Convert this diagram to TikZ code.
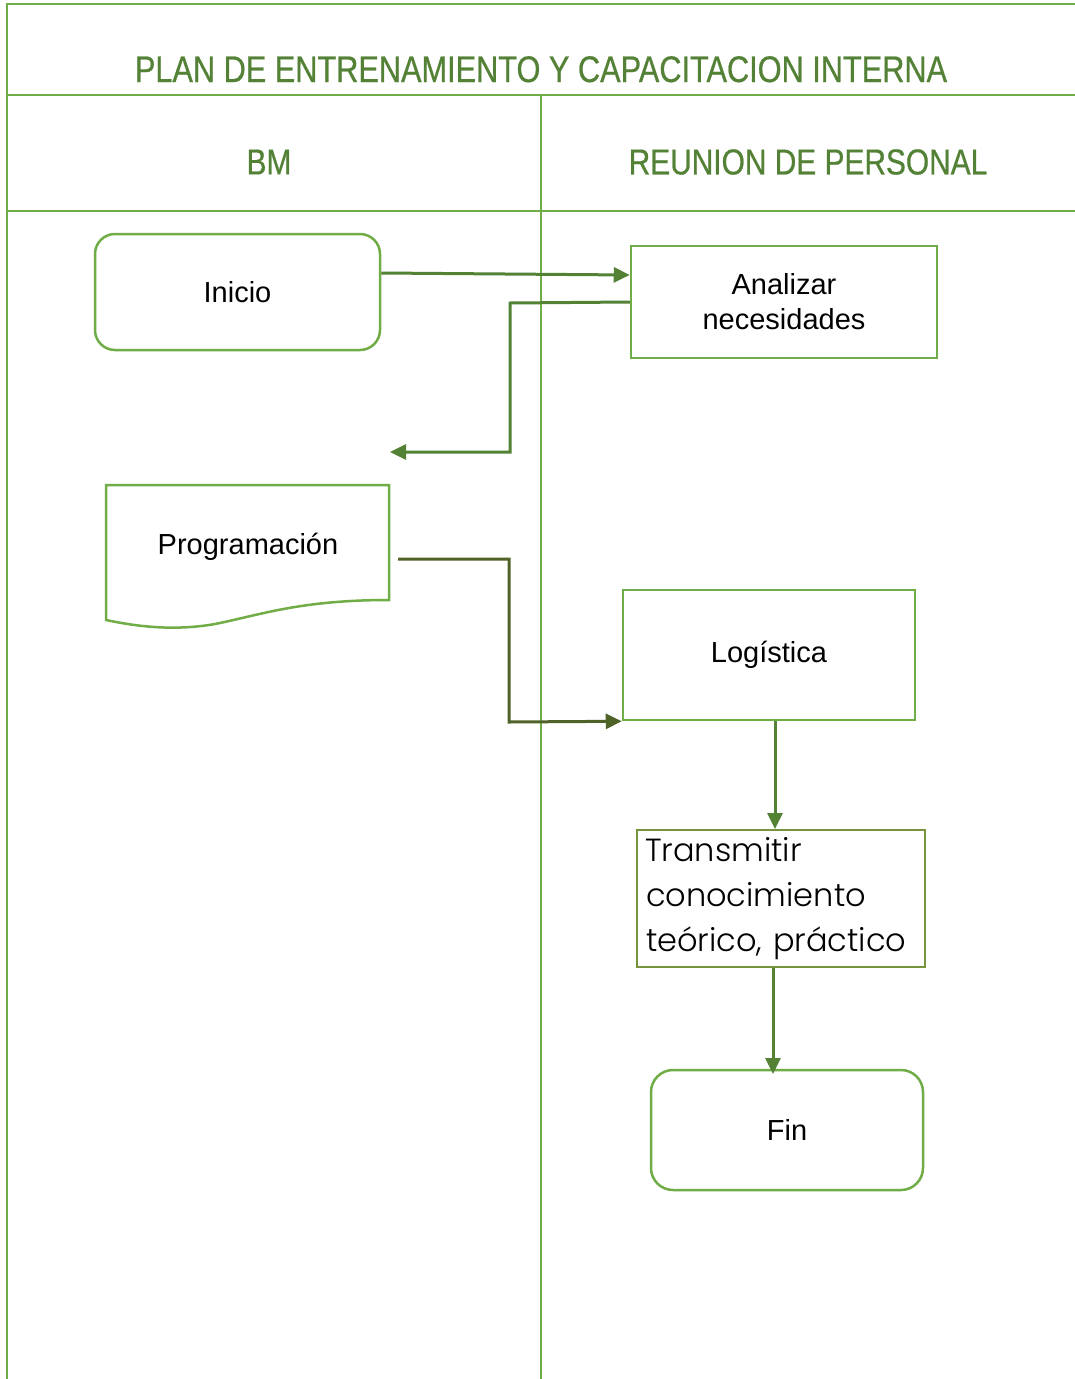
\documentclass[tikz,border=0pt]{standalone}
\usepackage{fontspec}
\setmainfont{Liberation Sans}
\newfontfamily\headfont[FakeStretch=0.83,FakeBold=0.6]{Liberation Sans}
\IfFontExistsTF{Poppins Light}
  {\newfontfamily\geofont{Poppins Light}}
  {\newfontfamily\geofont{Poppins}}
\usetikzlibrary{arrows.meta}
\definecolor{lane}{HTML}{70AD47}
\definecolor{headtxt}{HTML}{538135}
\definecolor{flow}{HTML}{548235}
\definecolor{olive}{HTML}{4F6228}
\definecolor{oliveframe}{HTML}{77933C}
\tikzset{
  x=1pt, y=-1pt,
  laneline/.style={draw=lane, line width=2pt},
  heading/.style={text=headtxt, font=\headfont\fontsize{37}{40}\selectfont, anchor=base},
  lanehead/.style={text=headtxt, font=\headfont\fontsize{36}{40}\selectfont},
  terminal/.style={draw=lane, line width=2.5pt, rounded corners=20pt, fill=white,
    font=\fontsize{29}{35}\selectfont, inner sep=0pt},
  process/.style={draw=lane, line width=2.5pt, fill=white,
    font=\fontsize{29}{35}\selectfont, inner sep=0pt, align=center},
  flowline/.style={draw=flow, line width=3pt,
    -{Triangle[length=16pt,width=15pt]}},
}
\begin{document}
\begin{tikzpicture}
\useasboundingbox (0,0) rectangle (1075,1379);
\fill[white] (0,0) rectangle (1075,1379);

% swimlane frame
\draw[laneline] (7,1379) -- (7,4) -- (1075,4);
\draw[laneline] (7,95) -- (1075,95);
\draw[laneline] (7,211) -- (1075,211);
\draw[laneline] (541,95) -- (541,1379);

\node[heading] (title) at (541,82) {PLAN DE ENTRENAMIENTO Y CAPACITACION INTERNA};
\node[lanehead] (laneBM) at (269,162) {BM};
\node[lanehead] (laneRP) at (808,162) {REUNION DE PERSONAL};

% process nodes
\node[terminal, minimum width=285pt, minimum height=116pt] (inicio) at (237.5,292) {Inicio};
\node[process, minimum width=306pt, minimum height=112pt] (analizar) at (784,302) {Analizar\\necesidades};

% document shape
\draw[lane, line width=2.5pt, fill=white] (106,485) -- (389,485) -- (389,600)
  .. controls (300,600) and (260,615) .. (215,624)
  .. controls (170,632) and (130,625) .. (106,620) -- cycle;
\node[font=\fontsize{29}{35}\selectfont] (prog) at (248,547) {Programación};
\coordinate (progR) at (398,559);

\node[process, minimum width=292pt, minimum height=130pt] (logistica) at (769,655) {\raisebox{-3pt}{Logística}};
\node[process, draw=oliveframe, line width=2pt, minimum width=288pt, minimum height=137pt,
  anchor=north west, align=left, text width=270pt,
  font=\geofont\fontsize{32}{45}\selectfont] (transmitir) at (636,829)
  {\hspace*{-1pt}Transmitir\\conocimiento\\teórico, práctico};
\node[terminal, rounded corners=22pt, minimum width=272pt, minimum height=120pt] (fin) at (787,1130) {Fin};

% connectors
\coordinate (retTip) at (390,452);
\draw[flowline] (inicio.east |- 0,273) -- (analizar.west |- 0,275);
\draw[flowline] (analizar.west) -- (510,303) -- (510,452) -- (retTip);
\draw[flowline, draw=olive] (progR) -- (509,559) -- (509,722) -- (logistica.south west);
\draw[flowline] (logistica.south -| 775,0) -- (transmitir.north -| 775,0);
\draw[flowline] (transmitir.south -| 773,0) -- (773,1074);
\end{tikzpicture}
\end{document}
